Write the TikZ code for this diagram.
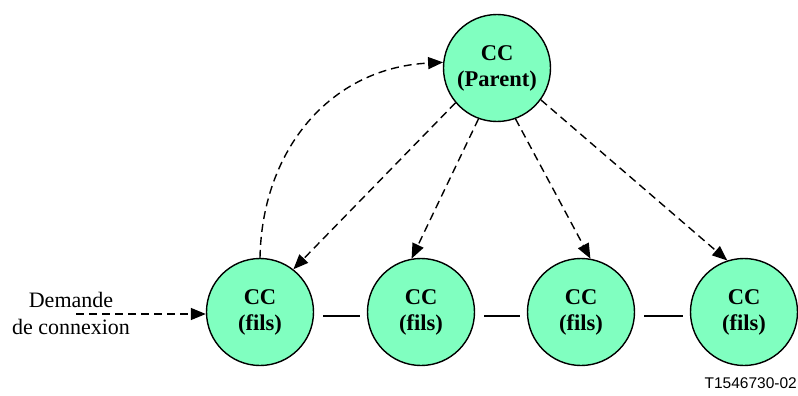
\documentclass[tikz,border=0pt]{standalone}
\usepackage{fontspec}
\setmainfont{Liberation Serif}
\newfontfamily\labelsans{Liberation Sans}
\usetikzlibrary{arrows.meta}
\definecolor{ccfill}{RGB}{128,255,192}
\begin{document}
\begin{tikzpicture}[x=1pt,y=-1pt,
  cc/.style={circle,draw=black,line width=1.4pt,fill=ccfill,minimum size=107pt,inner sep=0pt,
    align=center,font=\fontsize{22.5}{26}\selectfont\bfseries},
  darrow/.style={dash pattern=on 8pt off 5pt,line width=1.4pt,-{Triangle[length=15pt,width=12pt]}},
  link/.style={line width=1.6pt,shorten <=9pt,shorten >=7pt}]
\useasboundingbox (0,0) rectangle (798,396);
\node[cc] (p) at (497,68) {CC\\(Parent)};
\node[cc] (c1) at (260,312) {CC\\(fils)};
\node[cc] (c2) at (421,312) {CC\\(fils)};
\node[cc] (c3) at (581,312) {CC\\(fils)};
\node[cc] (c4) at (744,312) {CC\\(fils)};
% solid links between the children
\draw[link] ([yshift=-4pt]c1.east) -- ([yshift=-4pt]c2.west);
\draw[link] ([yshift=-4pt]c2.east) -- ([yshift=-4pt]c3.west);
\draw[link] ([yshift=-4pt]c3.east) -- ([yshift=-4pt]c4.west);
% dashed arrows from parent to children
\draw[darrow] (p.-140) -- (c1.52);
\draw[darrow] (p.-110) -- (c2.100);
\draw[darrow] (p.-70) -- (c3.80);
\draw[darrow] (p.-36) -- (c4.108);
% request going back up to the parent
\draw[darrow] (c1.north) .. controls (262,150) and (330,68) .. (p.174);
% incoming connection request
\node[align=center,font=\fontsize{22}{27}\selectfont] (req) at (71,313) {Demande\\de connexion};
\coordinate (reqstart) at (76,314);
\draw[darrow] (reqstart) -- (c1.west |- reqstart);
\node[font=\labelsans\fontsize{15.5}{17}\selectfont,anchor=base east,inner sep=0pt] (tag) at (797,388) {T1546730-02};
\end{tikzpicture}
\end{document}
